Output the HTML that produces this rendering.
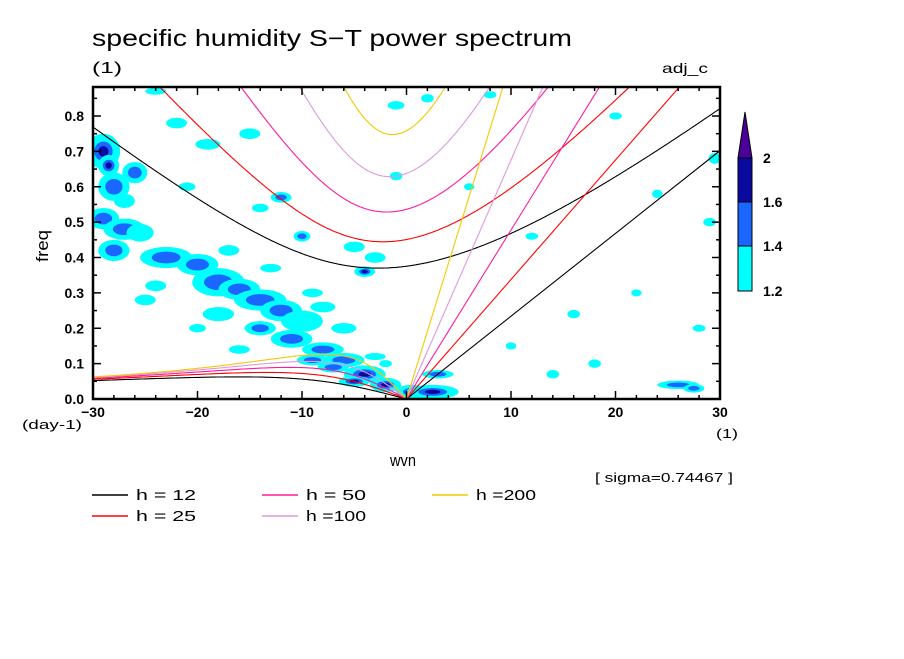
<!DOCTYPE html>
<html><head><meta charset="utf-8"><style>
body{margin:0;background:#fff;}
svg text{font-family:"Liberation Sans",sans-serif;fill:#000;}
</style></head><body>
<svg id="chart" width="904" height="654" viewBox="0 0 904 654" xmlns="http://www.w3.org/2000/svg">
<defs><clipPath id="plotclip"><rect x="93" y="87" width="627" height="312"/></clipPath></defs>
<rect width="904" height="654" fill="#fff"/>
<text x="92" y="46" font-size="23" textLength="480" lengthAdjust="spacingAndGlyphs">specific humidity S−T power spectrum</text>
<text x="92" y="73" font-size="16" textLength="30" lengthAdjust="spacingAndGlyphs">(1)</text>
<text x="662" y="73" font-size="14" textLength="46" lengthAdjust="spacingAndGlyphs">adj_c</text>
<g id="blobs" clip-path="url(#plotclip)"></g>
<g id="curves" clip-path="url(#plotclip)"></g>
<rect x="93" y="87" width="627" height="312" fill="none" stroke="#000" stroke-width="2.5"/>
<g id="ticks"></g>
<text x="390" y="466" font-size="17" textLength="26" lengthAdjust="spacingAndGlyphs">wvn</text>
<text x="48" y="262" font-size="17" transform="rotate(-90 48 262)" textLength="32" lengthAdjust="spacingAndGlyphs">freq</text>
<text x="22" y="429" font-size="13" textLength="60" lengthAdjust="spacingAndGlyphs">(day-1)</text>
<text x="716" y="438" font-size="13" textLength="22" lengthAdjust="spacingAndGlyphs">(1)</text>
<text x="595" y="482" font-size="13" textLength="138" lengthAdjust="spacingAndGlyphs">[ sigma=0.74467 ]</text>
<g id="legend"></g>
<g id="cbar"></g>
</svg>
<script>
const hValues=[12,25,50,100,200];
const hColors=["#000000","#ff0000","#ff1aa0","#dd99dd","#f5c800"];
const hLabels=["h = 12","h = 25","h = 50","h =100","h =200"];
const xTicks=[-30,-20,-10,0,10,20,30];
const yTicks=[0,0.1,0.2,0.3,0.4,0.5,0.6,0.7,0.8];
const cbarLevels=[1.2,1.4,1.6,2];
const levelColors=["#00ffff","#1a66ff","#0a0aa0","#4b0099"];
// blobs: wvn, freq, half-width (wvn), half-height (freq), level
const blobW=[-29,-28.5,-28,-26,-29,-27,-25.5,-28,-23,-20,-18,-16,-14,-12,-10,-18,-14,-11,-8,-6,-4,-2,0.5,2.5,-9,-7,-5,-3,-24,-22,-19,-15,-12,-10,-5,-4,-3,-1,-13,-27,-21,-17,-8,-6,-24,-16,2,14,18,26,27.5,29.5,29,22,10,6,24,16,-20,-25,-1,-14,-9,12,20,-2,8,28,3];
const blobF=[0.70,0.66,0.60,0.64,0.51,0.48,0.47,0.42,0.40,0.38,0.33,0.31,0.28,0.25,0.22,0.24,0.20,0.17,0.14,0.11,0.07,0.04,0.02,0.02,0.11,0.09,0.05,0.12,0.87,0.78,0.72,0.75,0.57,0.46,0.43,0.36,0.40,0.83,0.37,0.56,0.60,0.42,0.26,0.20,0.32,0.14,0.85,0.07,0.10,0.04,0.03,0.68,0.50,0.30,0.15,0.60,0.58,0.24,0.20,0.28,0.63,0.54,0.30,0.46,0.80,0.10,0.86,0.20,0.07];
const blobRx=[1.6,1,1.5,1.2,1.5,2,1.3,1.5,2.5,2,2.5,2,2.5,2,2,1.5,1.5,2,2,2,2,1.5,1.5,2.5,1.5,1.5,1.5,1,1,1,1.2,1,1,0.8,1,1,1,0.8,1,1,0.8,1,1.2,1.2,1,1,0.6,0.6,0.6,2,1,0.6,0.6,0.5,0.5,0.5,0.5,0.6,0.8,1,0.6,0.8,1,0.6,0.6,0.6,0.6,0.6,1.5];
const blobRy=[0.05,0.03,0.04,0.03,0.03,0.03,0.025,0.03,0.03,0.03,0.04,0.03,0.03,0.03,0.03,0.02,0.02,0.025,0.02,0.02,0.025,0.02,0.02,0.02,0.015,0.015,0.015,0.01,0.01,0.015,0.015,0.015,0.015,0.015,0.015,0.015,0.015,0.012,0.012,0.02,0.012,0.015,0.015,0.015,0.015,0.012,0.012,0.012,0.012,0.012,0.012,0.015,0.012,0.01,0.01,0.01,0.012,0.012,0.012,0.015,0.012,0.012,0.012,0.01,0.01,0.01,0.01,0.01,0.012];
const blobLv=[3,3,2,2,2,2,1,2,2,2,2,2,2,2,1,1,2,2,2,2,3,3,3,3,2,2,3,1,1,1,1,1,2,2,1,3,1,1,1,1,1,1,1,1,1,1,1,1,1,2,2,1,1,1,1,1,1,1,1,1,1,1,1,1,1,1,1,1,2];

const X0=93,X1=720,Y0=399,PPF=353.75;
const sx=w=>X0+(w+30)*(X1-X0)/60;
const sy=f=>Y0-f*PPF;
const NS="http://www.w3.org/2000/svg";
function mk(tag,attrs,parent){const e=document.createElementNS(NS,tag);for(const k in attrs)e.setAttribute(k,attrs[k]);parent.appendChild(e);return e;}

const bg=document.getElementById('blobs');
const scales=[1,0.55,0.3,0.15];
for(let i=0;i<blobW.length;i++){
  for(let l=0;l<blobLv[i];l++){
    const e=mk('ellipse',{cx:sx(blobW[i]),cy:sy(blobF[i]),rx:blobRx[i]*10.45*scales[l],ry:blobRy[i]*PPF*scales[l],fill:levelColors[l]},bg);
    
    
  }
}

const a=6.371e6,beta=2.29e-11,g=9.8,day=86400;
const cg=document.getElementById('curves');
function kOf(w){return w/a;}
function toCpd(om){return om*day/(2*Math.PI);}
hValues.forEach((h,i)=>{
  const c=Math.sqrt(g*h);
  let ig="",ro="",kv="";
  for(let w=-31;w<=31;w+=0.1){
    const k=kOf(w);
    let om=Math.sqrt(3*beta*c+c*c*k*k);
    for(let it=0;it<30;it++){const f=om*om-c*c*k*k-beta*c*c*k/om-3*beta*c;const d=2*om+beta*c*c*k/(om*om);om-=f/d;}
    ig+=(ig?"L":"M")+sx(w).toFixed(1)+","+sy(toCpd(om)).toFixed(1);
    if(w<=0.01){
      const omr=-beta*k/(k*k+3*beta/c);
      ro+=(ro?"L":"M")+sx(w).toFixed(1)+","+sy(toCpd(omr)).toFixed(1);
    }
  }
  kv="M"+sx(0)+","+sy(0)+"L"+sx(31).toFixed(1)+","+sy(toCpd(c*kOf(31))).toFixed(1);
  [ig,ro,kv].forEach((d,j)=>{
    const p=mk('path',{d:d,fill:"none",stroke:hColors[i],"stroke-width":1.1},cg);
    
    
  });
});

const tg=document.getElementById('ticks');
for(let w=-30;w<=30;w+=2){
  const L=(w%10===0)?8:4;
  mk('line',{x1:sx(w),x2:sx(w),y1:Y0,y2:Y0-L,stroke:"#000","stroke-width":1.5},tg);
  mk('line',{x1:sx(w),x2:sx(w),y1:87,y2:87+L,stroke:"#000","stroke-width":1.5},tg);
}
for(let q=0;q<=17;q++){
  const f=q*0.05,L=(q%2===0)?8:4;
  mk('line',{x1:X0,x2:X0+L,y1:sy(f),y2:sy(f),stroke:"#000","stroke-width":1.5},tg);
  mk('line',{x1:X1,x2:X1-L,y1:sy(f),y2:sy(f),stroke:"#000","stroke-width":1.5},tg);
}
xTicks.forEach(v=>{
  const t=mk('text',{x:sx(v),y:417,"font-size":14,"font-weight":"bold","text-anchor":"middle"},tg);
  t.textContent=(v<0?"−":"")+Math.abs(v);
  
  
});
yTicks.forEach(v=>{
  const t=mk('text',{x:84,y:sy(v)+5,"font-size":14,"font-weight":"bold","text-anchor":"end"},tg);
  t.textContent=v.toFixed(1);
  
  
});

const lg=document.getElementById('legend');
const lx=[92,92,262,262,432],ly=[495,516,495,516,495];
hValues.forEach((h,i)=>{
  const ent=mk('g',{},lg);
  
  
  mk('line',{x1:lx[i],x2:lx[i]+36,y1:ly[i],y2:ly[i],stroke:hColors[i],"stroke-width":1.5},ent);
  const t=mk('text',{x:lx[i]+44,y:ly[i]+5,"font-size":15,textLength:60,lengthAdjust:"spacingAndGlyphs"},ent);
  t.textContent=hLabels[i];
});

const cb=document.getElementById('cbar');
const cy=[291,246,202,158];
for(let i=0;i<3;i++){
  const r=mk('rect',{x:738,y:cy[i+1],width:14,height:cy[i]-cy[i+1],fill:levelColors[i],stroke:"#000","stroke-width":1},cb);
  
  
}
const tri=mk('path',{d:"M738,158L745,112L752,158Z",fill:levelColors[3],stroke:"#000","stroke-width":1},cb);


cbarLevels.forEach((v,i)=>{
  const t=mk('text',{x:763,y:cy[i]+5,"font-size":14,"font-weight":"bold"},cb);
  t.textContent=String(v);
  
  
});
</script>
</body></html>
